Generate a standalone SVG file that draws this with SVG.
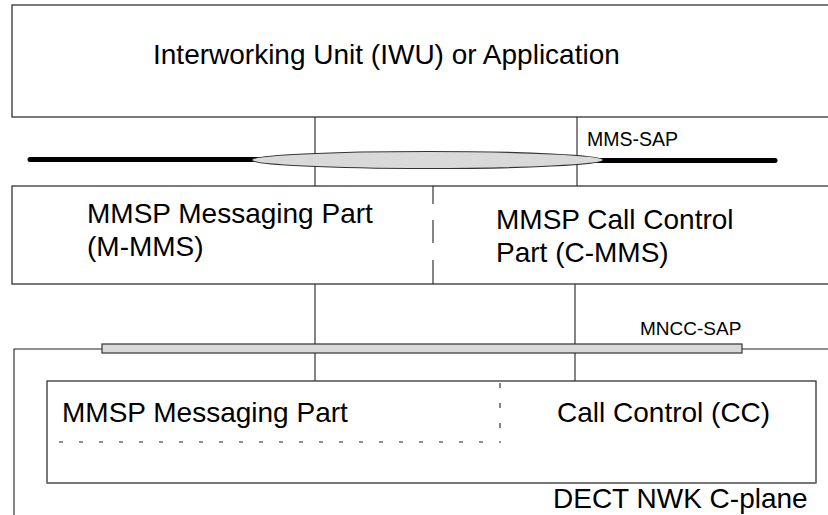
<svg xmlns="http://www.w3.org/2000/svg" width="828" height="515" viewBox="0 0 828 515">
<style>
.box{fill:#fff;stroke:#333;stroke-width:1.3}
.ln{stroke:#222;stroke-width:1.1;fill:none}
.t{font-family:"Liberation Sans",Arial,sans-serif;font-size:28px;fill:#000}
.s{font-family:"Liberation Sans",Arial,sans-serif;fill:#000}
.sap{fill:#d9d9d9;stroke:#333;stroke-width:1.2}
.dash{stroke:#222;stroke-width:1.1;fill:none}
</style>
<rect width="828" height="515" fill="#fff"/>
<g id="iwu">
<rect class="box" x="12" y="5" width="830" height="112"/>
<text class="t" x="153" y="64" font-size="28.4">Interworking Unit (IWU) or Application</text>
</g>
<g id="connectors">
<line class="ln" x1="315" y1="117" x2="315" y2="186"/>
<line class="ln" x1="577" y1="117" x2="577" y2="190"/>
<line class="ln" x1="315" y1="284" x2="315" y2="381"/>
<line class="ln" x1="575" y1="284" x2="575" y2="381"/>
<line x1="577" y1="190" x2="577" y2="268" stroke="#999" stroke-width="1" stroke-dasharray="3 5"/>
</g>
<g id="mms-sap">
<line x1="30" y1="159.5" x2="260" y2="159.5" stroke="#000" stroke-width="5" stroke-linecap="round"/>
<line x1="595" y1="160.5" x2="775" y2="160.5" stroke="#000" stroke-width="5" stroke-linecap="round"/>
<ellipse class="sap" cx="427.5" cy="160" rx="175.5" ry="8.5"/>
<text class="s" x="587" y="146" font-size="19.5">MMS-SAP</text>
</g>
<g id="mmsp">
<rect class="box" x="12" y="186" width="830" height="98"/>
<path class="ln" d="M433 186V204M433 220V243M433 260V284"/>
<text class="t" x="87" y="223">MMSP Messaging Part</text>
<text class="t" x="87" y="256">(M-MMS)</text>
<text class="t" x="496" y="229">MMSP Call Control</text>
<text class="t" x="496" y="262">Part (C-MMS)</text>
</g>
<g id="mncc-sap">
<path class="ln" d="M14 515V349H102M742 349H828"/>
<rect class="sap" x="102" y="344" width="640" height="9"/>
<text class="s" x="640" y="335" font-size="19">MNCC-SAP</text>
</g>
<g id="nwk">
<rect class="box" x="47" y="381" width="769" height="102"/>
<line x1="47" y1="483" x2="816" y2="483" stroke="#777" stroke-width="1.6"/>
<line x1="500" y1="383" x2="500" y2="441" class="dash" stroke-dasharray="5 15"/>
<line x1="59" y1="442" x2="501" y2="442" class="dash" stroke-dasharray="4 16"/>
<text class="t" x="62" y="422">MMSP Messaging Part</text>
<text class="t" x="557" y="422">Call Control (CC)</text>
<text class="t" x="553" y="508">DECT NWK C-plane</text>
</g>
</svg>
